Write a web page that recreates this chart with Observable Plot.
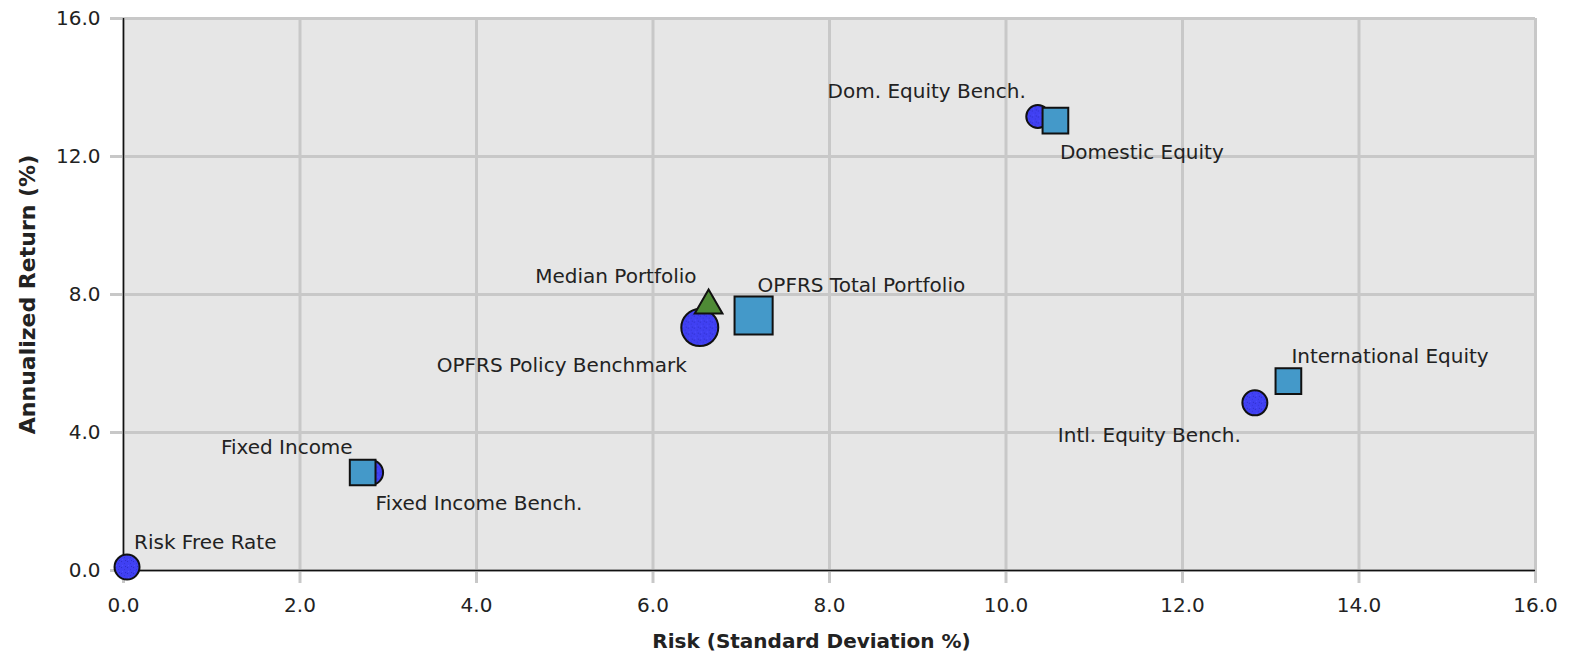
<!DOCTYPE html>
<html>
<head>
<meta charset="utf-8">
<script src="https://cdn.jsdelivr.net/npm/d3@7"></script>
<script src="https://cdn.jsdelivr.net/npm/@observablehq/plot@0.6"></script>
<style>
  html, body { margin: 0; padding: 0; background: #fff; }
  #chart { width: 1569px; height: 657px; }
  svg { font-family: "DejaVu Sans", sans-serif; }
</style>
</head>
<body>
<div id="chart"></div>
<script>
// ---- data ----
const names = [
  "Risk Free Rate",
  "Fixed Income Bench.",
  "Fixed Income",
  "OPFRS Policy Benchmark",
  "Median Portfolio",
  "OPFRS Total Portfolio",
  "Dom. Equity Bench.",
  "Domestic Equity",
  "Intl. Equity Bench.",
  "International Equity"
];
const risk =   [0.04, 2.80, 2.71, 6.53, 6.63, 7.14, 10.36, 10.56, 12.82, 13.20];
const ret =    [0.10, 2.84, 2.84, 7.04, 7.68, 7.39, 13.16, 13.04, 4.86, 5.49];
const kinds =  ["bench", "bench", "fund", "bench", "median", "fund", "bench", "fund", "bench", "fund"];
const xTicks = [0, 2, 4, 6, 8, 10, 12, 14, 16];
const yTicks = [0, 4, 8, 12, 16];
const xTickLabels = ["0.0", "2.0", "4.0", "6.0", "8.0", "10.0", "12.0", "14.0", "16.0"];
const yTickLabels = ["0.0", "4.0", "8.0", "12.0", "16.0"];

// ---- layout (styling, not data) ----
const sizeR = { "Risk Free Rate": 12.5, "Fixed Income Bench.": 12.5, "Fixed Income": 14.5,
  "OPFRS Policy Benchmark": 18.5, "Median Portfolio": 10.3, "OPFRS Total Portfolio": 21.5,
  "Dom. Equity Bench.": 11.5, "Domestic Equity": 14.5, "Intl. Equity Bench.": 12.5, "International Equity": 14.5 };
const labelPos = {
  "Risk Free Rate": [7, -24, "start"],
  "Fixed Income": [-10, -25, "end"],
  "Fixed Income Bench.": [5, 31, "start"],
  "Median Portfolio": [-12, -29, "end"],
  "OPFRS Total Portfolio": [4, -30, "start"],
  "OPFRS Policy Benchmark": [-13, 38, "end"],
  "Dom. Equity Bench.": [-12, -25, "end"],
  "Domestic Equity": [4.5, 32, "start"],
  "International Equity": [3, -24.5, "start"],
  "Intl. Equity Bench.": [-14, 32.5, "end"]
};

const rows = names.map((n, i) => ({ name: n, x: risk[i], y: ret[i], kind: kinds[i] }));
const symbolOf = { bench: "circle", fund: "square", median: "triangle" };
const fillOf = { bench: "#3d3df0", fund: "#4499c9", median: "#4e8a35" };

const marks = [
  Plot.frame({ fill: "#e6e6e6", stroke: null }),
  Plot.gridX(xTicks, { stroke: "#c8c8c8", strokeOpacity: 1, strokeWidth: 3 }),
  Plot.gridY(yTicks, { stroke: "#c8c8c8", strokeOpacity: 1, strokeWidth: 3 }),
  Plot.axisX(xTicks, { tickSize: 13, stroke: "#c8c8c8", strokeWidth: 3, tickFormat: () => "", label: null }),
  Plot.axisY(yTicks, { tickSize: 13, stroke: "#c8c8c8", strokeWidth: 3, tickFormat: () => "", label: null }),
  Plot.text(xTicks, { x: d => d, text: (d, i) => xTickLabels[i], frameAnchor: "bottom",
    lineAnchor: "top", dy: 27, fontSize: 20, fill: "#222" }),
  Plot.text(yTicks, { y: d => d, text: (d, i) => yTickLabels[i], frameAnchor: "left",
    textAnchor: "end", lineAnchor: "middle", dx: -23, fontSize: 20, fill: "#222" }),
  Plot.ruleX([0], { stroke: "#111", strokeWidth: 1.5 }),
  Plot.ruleY([0], { stroke: "#111", strokeWidth: 1.5 }),
];
rows.forEach(r => {
  marks.push(Plot.dot([r], {
    x: "x", y: "y", symbol: () => symbolOf[r.kind], r: sizeR[r.name],
    fill: fillOf[r.kind], stroke: "#111", strokeWidth: 2, className: "pt-" + r.kind
  }));
});
rows.forEach(r => {
  const [dx, dy, anchor] = labelPos[r.name];
  marks.push(Plot.text([r], {
    x: "x", y: "y", text: "name", dx, dy, textAnchor: anchor,
    fontSize: 20, fill: "#222"
  }));
});
marks.push(Plot.text(["Risk (Standard Deviation %)"], {
  frameAnchor: "bottom", text: d => d, dx: -18, dy: 77, fontSize: 20, fontWeight: "bold", fill: "#222"
}));
marks.push(Plot.text(["Annualized Return (%)"], {
  frameAnchor: "left", textAnchor: "middle", text: d => d, dx: -96, rotate: -90,
  fontSize: 22, fontWeight: "bold", fill: "#222"
}));

const chart = Plot.plot({
  width: 1569, height: 657,
  marginLeft: 123, marginRight: 34, marginTop: 18, marginBottom: 87,
  x: { domain: [0, 16], ticks: xTicks },
  y: { domain: [0, 16], ticks: yTicks },
  symbol: { type: "identity" },
  style: { background: "#fff", overflow: "visible" },
  marks
});

const svg = d3.select(chart);
// speckled texture for the benchmark circles
const defs = svg.insert("defs", ":first-child");
const pat = defs.append("pattern").attr("id", "speckle").attr("patternUnits", "userSpaceOnUse")
  .attr("width", 6).attr("height", 6);
pat.append("rect").attr("width", 6).attr("height", 6).attr("fill", "#4040f2");
pat.append("rect").attr("x", 0).attr("y", 0).attr("width", 1).attr("height", 1).attr("fill", "#2e2ec8");
pat.append("rect").attr("x", 3).attr("y", 2).attr("width", 1).attr("height", 1).attr("fill", "#3535d8");
pat.append("rect").attr("x", 1).attr("y", 4).attr("width", 1).attr("height", 1).attr("fill", "#5050ff");
pat.append("rect").attr("x", 4).attr("y", 5).attr("width", 1).attr("height", 1).attr("fill", "#2e2ec8");
svg.selectAll(".pt-bench path, .pt-bench circle").attr("fill", "url(#speckle)");

document.getElementById("chart").appendChild(chart);
</script>
</body>
</html>
